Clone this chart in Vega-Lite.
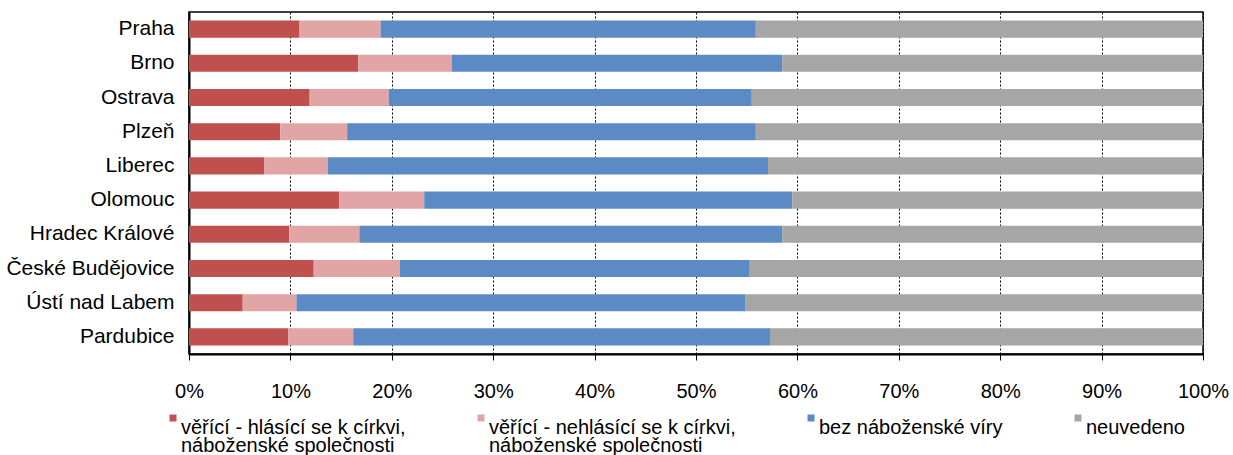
{
  "$schema": "https://vega.github.io/schema/vega-lite/v6.json",
  "autosize": "none",
  "padding": {"left": 189, "top": 12, "right": 30, "bottom": 101},
  "width": 1014,
  "height": 342,
  "background": "white",
  "config": {
    "font": "Liberation Sans",
    "view": {"stroke": "black", "strokeWidth": 1.5},
    "axis": {"labelFont": "Liberation Sans", "labelColor": "black"}
  },
  "data": {
    "values": [
      {"mesto": "Praha", "kategorie": "věřící - hlásící se k církvi, náboženské společnosti", "podil": 10.9},
      {"mesto": "Praha", "kategorie": "věřící - nehlásící se k církvi, náboženské společnosti", "podil": 8.0},
      {"mesto": "Praha", "kategorie": "bez náboženské víry", "podil": 37.0},
      {"mesto": "Praha", "kategorie": "neuvedeno", "podil": 44.1},
      {"mesto": "Brno", "kategorie": "věřící - hlásící se k církvi, náboženské společnosti", "podil": 16.7},
      {"mesto": "Brno", "kategorie": "věřící - nehlásící se k církvi, náboženské společnosti", "podil": 9.2},
      {"mesto": "Brno", "kategorie": "bez náboženské víry", "podil": 32.6},
      {"mesto": "Brno", "kategorie": "neuvedeno", "podil": 41.5},
      {"mesto": "Ostrava", "kategorie": "věřící - hlásící se k církvi, náboženské společnosti", "podil": 11.9},
      {"mesto": "Ostrava", "kategorie": "věřící - nehlásící se k církvi, náboženské společnosti", "podil": 7.8},
      {"mesto": "Ostrava", "kategorie": "bez náboženské víry", "podil": 35.8},
      {"mesto": "Ostrava", "kategorie": "neuvedeno", "podil": 44.5},
      {"mesto": "Plzeň", "kategorie": "věřící - hlásící se k církvi, náboženské společnosti", "podil": 9.0},
      {"mesto": "Plzeň", "kategorie": "věřící - nehlásící se k církvi, náboženské společnosti", "podil": 6.6},
      {"mesto": "Plzeň", "kategorie": "bez náboženské víry", "podil": 40.3},
      {"mesto": "Plzeň", "kategorie": "neuvedeno", "podil": 44.1},
      {"mesto": "Liberec", "kategorie": "věřící - hlásící se k církvi, náboženské společnosti", "podil": 7.4},
      {"mesto": "Liberec", "kategorie": "věřící - nehlásící se k církvi, náboženské společnosti", "podil": 6.3},
      {"mesto": "Liberec", "kategorie": "bez náboženské víry", "podil": 43.4},
      {"mesto": "Liberec", "kategorie": "neuvedeno", "podil": 42.9},
      {"mesto": "Olomouc", "kategorie": "věřící - hlásící se k církvi, náboženské společnosti", "podil": 14.8},
      {"mesto": "Olomouc", "kategorie": "věřící - nehlásící se k církvi, náboženské společnosti", "podil": 8.4},
      {"mesto": "Olomouc", "kategorie": "bez náboženské víry", "podil": 36.3},
      {"mesto": "Olomouc", "kategorie": "neuvedeno", "podil": 40.5},
      {"mesto": "Hradec Králové", "kategorie": "věřící - hlásící se k církvi, náboženské společnosti", "podil": 9.9},
      {"mesto": "Hradec Králové", "kategorie": "věřící - nehlásící se k církvi, náboženské společnosti", "podil": 6.9},
      {"mesto": "Hradec Králové", "kategorie": "bez náboženské víry", "podil": 41.7},
      {"mesto": "Hradec Králové", "kategorie": "neuvedeno", "podil": 41.5},
      {"mesto": "České Budějovice", "kategorie": "věřící - hlásící se k církvi, náboženské společnosti", "podil": 12.3},
      {"mesto": "České Budějovice", "kategorie": "věřící - nehlásící se k církvi, náboženské společnosti", "podil": 8.5},
      {"mesto": "České Budějovice", "kategorie": "bez náboženské víry", "podil": 34.5},
      {"mesto": "České Budějovice", "kategorie": "neuvedeno", "podil": 44.7},
      {"mesto": "Ústí nad Labem", "kategorie": "věřící - hlásící se k církvi, náboženské společnosti", "podil": 5.3},
      {"mesto": "Ústí nad Labem", "kategorie": "věřící - nehlásící se k církvi, náboženské společnosti", "podil": 5.3},
      {"mesto": "Ústí nad Labem", "kategorie": "bez náboženské víry", "podil": 44.3},
      {"mesto": "Ústí nad Labem", "kategorie": "neuvedeno", "podil": 45.1},
      {"mesto": "Pardubice", "kategorie": "věřící - hlásící se k církvi, náboženské společnosti", "podil": 9.8},
      {"mesto": "Pardubice", "kategorie": "věřící - nehlásící se k církvi, náboženské společnosti", "podil": 6.4},
      {"mesto": "Pardubice", "kategorie": "bez náboženské víry", "podil": 41.1},
      {"mesto": "Pardubice", "kategorie": "neuvedeno", "podil": 42.7}
    ]
  },
  "transform": [
    {"window": [{"op": "row_number", "as": "poradi"}], "groupby": ["mesto"]}
  ],
  "mark": {"type": "bar"},
  "encoding": {
    "y": {
      "field": "mesto",
      "type": "nominal",
      "sort": ["Praha", "Brno", "Ostrava", "Plzeň", "Liberec", "Olomouc", "Hradec Králové", "České Budějovice", "Ústí nad Labem", "Pardubice"],
      "scale": {"paddingInner": 0.5, "paddingOuter": 0.25},
      "axis": {
        "title": null,
        "ticks": false,
        "labelPadding": 15,
        "labelFontSize": 21,
        "domainColor": "black",
        "domainWidth": 2,
        "grid": false
      }
    },
    "x": {
      "field": "podil",
      "type": "quantitative",
      "stack": "normalize",
      "scale": {"domain": [0, 1], "nice": false},
      "axis": {
        "title": null,
        "format": ".0%",
        "values": [0, 0.1, 0.2, 0.3, 0.4, 0.5, 0.6, 0.7, 0.8, 0.9, 1],
        "grid": true,
        "gridColor": "black",
        "gridDash": [2, 2],
        "gridWidth": 1,
        "gridOpacity": 1,
        "domainColor": "black",
        "domainWidth": 2,
        "tickColor": "black",
        "tickSize": 6,
        "tickWidth": 1,
        "labelFontSize": 20,
        "labelPadding": 21,
        "labelFlush": false
      }
    },
    "order": {"field": "poradi", "type": "quantitative", "sort": "ascending"},
    "color": {
      "field": "kategorie",
      "type": "nominal",
      "sort": ["věřící - hlásící se k církvi, náboženské společnosti", "věřící - nehlásící se k církvi, náboženské společnosti", "bez náboženské víry", "neuvedeno"],
      "scale": {
        "domain": ["věřící - hlásící se k církvi, náboženské společnosti", "věřící - nehlásící se k církvi, náboženské společnosti", "bez náboženské víry", "neuvedeno"],
        "range": ["#C0504D", "#E0A5A4", "#5B8AC4", "#A6A6A6"]
      },
      "legend": {
        "title": null,
        "orient": "none",
        "direction": "horizontal",
        "legendX": -26,
        "legendY": 396,
        "padding": 0,
        "symbolType": "square",
        "symbolSize": 49,
        "symbolStrokeWidth": 0,
        "symbolOpacity": 1,
        "labelFont": "Liberation Sans",
        "labelFontSize": 20,
        "labelColor": "black",
        "labelOffset": -2,
        "labelBaseline": "top",
        "labelLimit": 0,
        "columnPadding": 65,
        "labelExpr": "indexof(datum.label, ', ') > 0 ? [substring(datum.label, 0, indexof(datum.label, ', ') + 1), substring(datum.label, indexof(datum.label, ', ') + 2)] : [datum.label, ' ']",
        "encode": {"labels": {"update": {"lineHeight": {"value": 18}}}}
      }
    }
  }
}
